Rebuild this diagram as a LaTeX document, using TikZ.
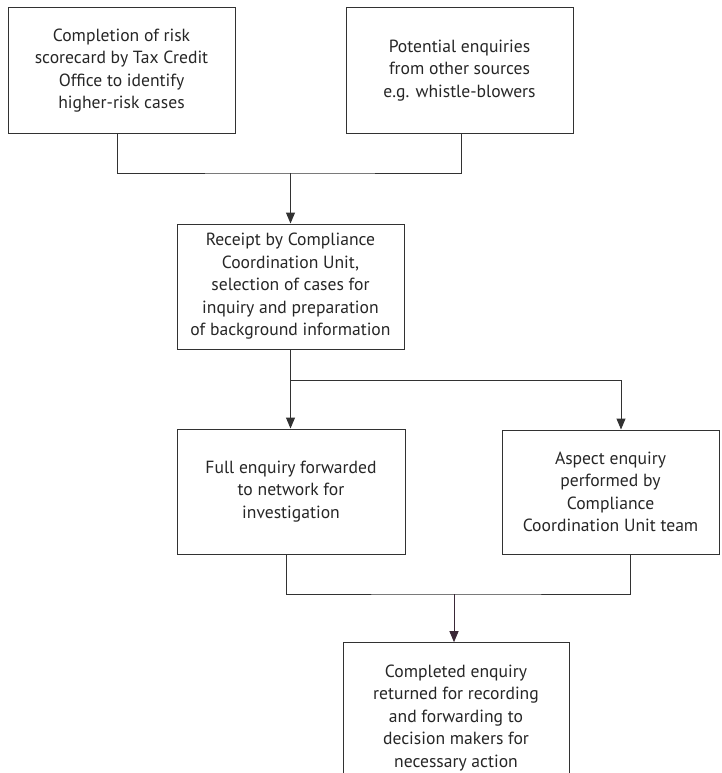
\documentclass[tikz,border=0pt]{standalone}
\usepackage{fontspec}
\setmainfont{PT Sans}
\usetikzlibrary{arrows.meta}
\definecolor{linegray}{RGB}{50,50,50}
\definecolor{arrowplum}{RGB}{58,40,55}
\begin{document}
\begin{tikzpicture}[
    x=1pt, y=-1pt,
    box/.style={rectangle, draw=linegray, line width=1pt, minimum width=227pt, minimum height=125pt, align=center, text=black!85, font=\fontsize{17.6}{22.5}\selectfont},
    line/.style={draw=linegray, line width=1pt},
    >={Triangle[length=11pt,width=9pt]}
]
\useasboundingbox (0,0) rectangle (721,773);

% Quellen der Fälle
\node[box] at (121.5,70.5) (score) {Completion of risk\\scorecard by Tax Credit\\Office to identify\\higher-risk cases};
\node[box] at (459.5,70.5) (other) {Potential enquiries\\from other sources\\e.g. whistle-blowers};

% Compliance Coordination Unit
\node[box] at (290.5,286.5) (receipt) {Receipt by Compliance\\Coordination Unit,\\selection of cases for\\inquiry and preparation\\of background information};

% Zwei Arten von Enquiry
\node[box, minimum width=228pt] at (291,491.5) (full) {Full enquiry forwarded\\to network for\\investigation};
\node[box, minimum width=217pt, minimum height=124pt] at (610.5,492) (aspect) {Aspect enquiry\\performed by\\Compliance\\Coordination Unit team};

% Ergebnis (unten abgeschnitten)
\node[box, minimum width=226pt, minimum height=150pt] at (456,717.7) (done) {Completed enquiry\\returned for recording\\and forwarding to\\decision makers for\\necessary action};

% Verzweigungspunkte
\coordinate (join1) at (290.5,173);
\coordinate (join2) at (290.5,380);
\coordinate (join3) at (454,594);

% Verbindungen oben
\draw[line] ([xshift=-4.5pt]score.south) |- (join1) -| ([xshift=1.5pt]other.south);
\draw[line,->] (join1) -- (receipt.north);

% Verbindungen Mitte
\draw[line,->] (receipt.south) -- (receipt.south |- full.north);
\draw[line,->] (join2) -| ([xshift=10.5pt]aspect.north);

% Verbindungen unten
\draw[line] ([xshift=-5pt]full.south) |- (join3) -| ([xshift=19.5pt]aspect.south);
\draw[line, draw=arrowplum, ->] (join3) -- (join3 |- done.north);
\end{tikzpicture}
\end{document}
